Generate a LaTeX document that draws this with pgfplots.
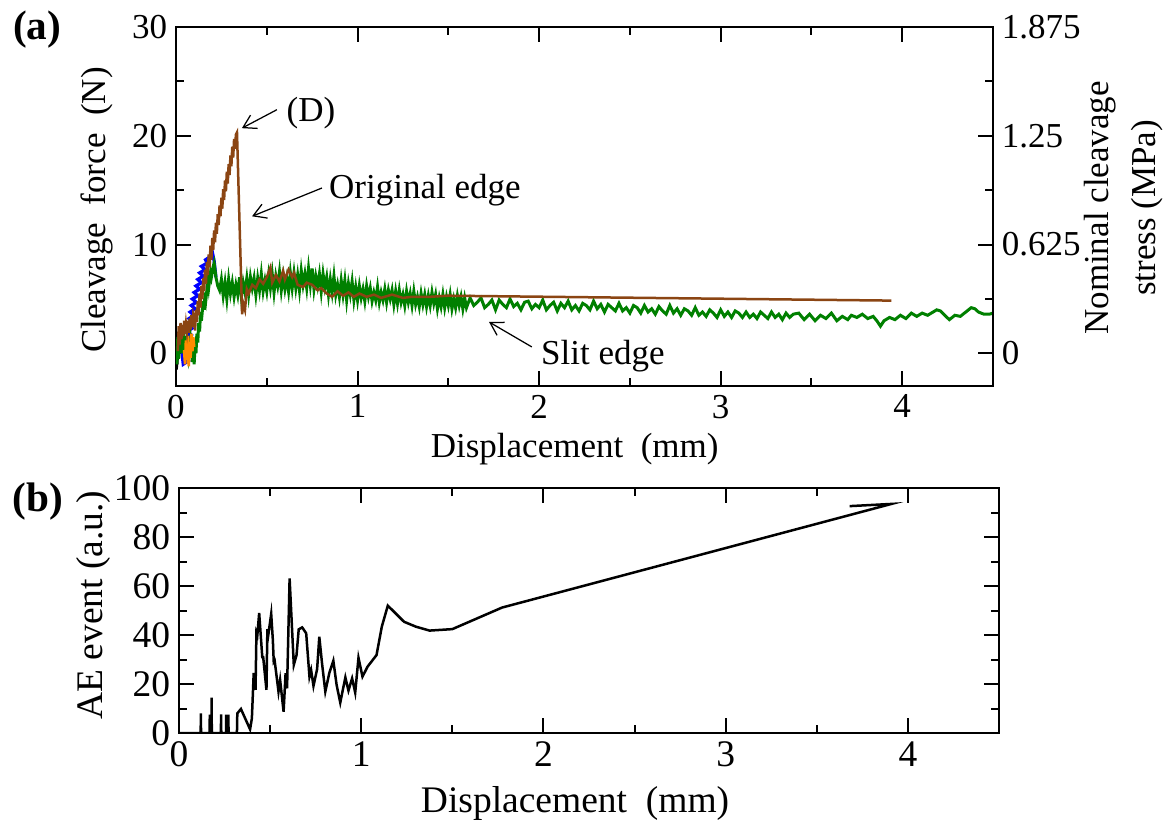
\documentclass[border=0pt]{standalone}
\usepackage{fontspec}
\setmainfont{Liberation Serif}
\usepackage{pgfplots}
\pgfplotsset{compat=1.18}
\usetikzlibrary{arrows.meta}

\definecolor{cgreen}{RGB}{0,128,0}
\definecolor{cbrown}{RGB}{139,69,19}
\definecolor{cblue}{RGB}{0,0,255}
\definecolor{corange}{RGB}{255,140,0}

\pgfplotsset{
  mystyle/.style={
    scale only axis,
    axis line style={line width=0.8pt},
    every tick/.style={black, line width=0.8pt},
    major tick length=6pt,
    minor tick length=3.2pt,
    tick align=inside,
    tick label style={font=\fontsize{14}{16}\selectfont},
    label style={font=\fontsize{14}{19}\selectfont},
    /pgf/number format/assume math mode=true,
    clip mode=individual,
  }
}

\begin{document}
\begin{tikzpicture}
\path[use as bounding box] (0,0) rectangle (469.2pt,332.8pt);

% ---------------- panel (a) ----------------
\begin{axis}[mystyle,
  at={(70.4pt,178.4pt)}, anchor=south west,
  width=326.8pt, height=143.6pt,
  xmin=0, xmax=4.5, ymin=-3, ymax=30,
  xtick={0,1,2,3,4}, minor xtick={0.5,1.5,2.5,3.5},
  ytick={0,10,20,30}, minor ytick={5,15,25},
  xlabel={Displacement\ \ (mm)},
  ylabel={Cleavage\ \ force\ \ (N)},
  xlabel style={at={(axis description cs:0.488,-0.175)}, anchor=center},
  ylabel style={at={(axis description cs:-0.097,0.49)}, anchor=center},
]
\addplot[cblue, line width=1.3pt] coordinates {
(0.030,0.5)(0.040,-1.0)(0.067,-0.7)(0.044,-0.4)(0.071,-0.1)(0.048,0.2)(0.075,0.5)(0.052,0.8)(0.079,1.1)(0.056,1.4)(0.083,1.7)
(0.060,2.0)(0.088,2.3)(0.066,2.6)(0.094,2.9)(0.072,3.2)(0.100,3.5)(0.078,3.8)(0.106,4.1)(0.084,4.4)(0.112,4.7)
(0.090,5.0)(0.120,5.3)(0.100,5.6)(0.130,5.9)(0.110,6.2)(0.140,6.5)(0.120,6.8)(0.150,7.1)(0.130,7.4)(0.160,7.7)
(0.140,8.0)(0.172,8.3)(0.163,8.6)(0.190,8.9)(0.200,9.3)(0.210,8.5)(0.220,7.0)
};
\addplot[black, line width=1pt] coordinates {
(0.004,-1.5)(0.006,1.5)(0.008,-1.0)(0.010,2.0)(0.012,-0.5)(0.015,1.0)
};
\addplot[cgreen, line width=1.2pt] coordinates {
(0.000,0.5)(0.005,-1.0)(0.010,1.5)(0.015,-0.5)(0.020,2.0)(0.030,0.0)(0.040,1.8)(0.050,0.2)(0.060,1.5)(0.070,-0.2)(0.080,1.2)(0.090,-0.8)(0.095,0.5)(0.100,-1.0)(0.105,0.8)(0.110,0.0)(0.115,1.8)(0.120,1.0)(0.125,2.8)(0.130,2.0)(0.135,3.8)(0.140,3.0)(0.150,4.8)(0.155,4.0)(0.160,5.6)(0.165,5.0)(0.175,6.6)(0.180,6.0)(0.190,7.4)(0.195,7.0)(0.205,8.0)(0.210,8.3)(0.220,7.0)(0.230,6.2)(0.240,5.8)
(0.25,6.8)(0.26,5.3)(0.27,6.5)(0.28,5.0)(0.29,6.8)(0.30,5.5)(0.31,6.5)(0.32,5.2)(0.33,6.3)(0.34,5.4)
(0.35,7.0)(0.36,5.2)(0.37,6.5)(0.38,5.6)(0.39,6.9)(0.40,5.4)(0.41,7.0)(0.42,6.0)(0.43,6.9)(0.44,5.4)
(0.45,6.9)(0.46,5.8)(0.47,7.3)(0.48,5.7)(0.49,6.7)(0.50,5.7)(0.51,7.2)(0.52,6.0)(0.53,7.3)(0.54,5.6)
(0.55,7.1)(0.56,6.2)(0.57,7.5)(0.58,5.8)(0.59,7.1)(0.60,5.9)(0.61,6.9)(0.62,5.7)(0.63,7.4)(0.64,6.0)
(0.65,7.4)(0.66,6.0)(0.67,7.2)(0.68,5.8)(0.69,7.6)(0.70,6.3)(0.71,7.3)(0.72,6.0)(0.73,7.8)(0.74,6.3)
(0.75,7.8)(0.76,5.9)(0.77,7.1)(0.78,6.2)(0.79,7.3)(0.80,5.7)(0.81,7.3)(0.82,6.1)(0.83,7.0)(0.84,5.4)
(0.85,6.8)(0.86,5.6)(0.87,7.1)(0.88,5.4)(0.89,6.3)(0.90,5.2)(0.91,6.7)(0.92,5.4)(0.93,6.7)(0.94,4.9)
(0.95,6.4)(0.96,5.4)(0.97,6.6)(0.98,4.9)(0.99,6.1)(1.00,4.9)
(1.01,6.2)(1.02,5.1)(1.03,5.9)(1.04,4.8)(1.05,6.2)(1.06,5.2)(1.07,6.0)(1.08,4.8)(1.09,5.6)(1.10,4.9)
(1.11,6.1)(1.12,4.7)(1.13,5.6)(1.14,4.9)(1.15,5.9)(1.16,4.7)(1.17,5.8)(1.18,5.0)(1.19,5.8)(1.20,4.5)
(1.21,5.7)(1.22,4.6)(1.23,5.8)(1.24,4.7)(1.25,5.4)(1.26,4.4)(1.27,5.7)(1.28,4.7)(1.29,5.5)(1.30,4.4)
(1.31,5.7)(1.32,4.5)(1.33,5.2)(1.34,4.3)(1.35,5.5)(1.36,4.5)(1.37,5.4)(1.38,4.3)(1.39,5.3)(1.40,4.4)
(1.41,5.6)(1.42,4.6)(1.43,5.4)(1.44,4.1)(1.45,5.1)(1.46,4.3)(1.47,5.4)(1.48,4.2)(1.49,5.2)(1.50,4.4)
(1.51,5.4)(1.52,4.1)(1.53,5.0)(1.54,4.2)(1.55,5.3)(1.56,4.4)(1.57,5.2)(1.58,4.1)(1.59,5.1)(1.60,4.2)
(1.62,5.1)(1.64,4.4)(1.66,4.7)(1.68,5.1)(1.70,4.2)(1.72,4.5)(1.74,4.9)(1.76,4.0)(1.78,4.9)(1.80,4.5)
(1.82,4.2)(1.84,5.0)(1.86,4.3)(1.88,4.6)(1.90,4.0)(1.92,4.7)(1.94,4.8)(1.96,4.1)(1.98,4.5)(2.00,4.2)
(2.02,4.9)(2.04,4.0)(2.06,4.4)(2.08,4.7)(2.10,3.9)(2.12,4.6)(2.14,4.2)(2.16,4.8)(2.18,4.0)(2.20,4.4)
(2.22,3.9)(2.24,4.6)(2.26,4.4)(2.28,4.0)(2.30,4.8)(2.32,4.1)(2.34,4.5)(2.36,3.8)(2.38,4.5)(2.40,4.2)
(2.42,3.9)(2.44,4.6)(2.46,3.9)(2.48,4.2)(2.50,3.7)(2.52,4.4)(2.54,4.2)(2.56,3.7)(2.58,4.4)(2.60,3.8)
(2.62,4.1)(2.64,3.6)(2.66,4.3)(2.68,3.9)(2.70,3.6)(2.72,4.4)(2.74,3.7)(2.76,4.1)(2.78,3.5)(2.80,4.1)
(2.82,3.9)(2.84,3.5)(2.86,4.2)(2.88,3.5)(2.90,3.8)(2.92,3.4)(2.94,4.0)(2.96,3.7)(2.98,3.3)(3.00,4.0)
(3.02,3.4)(3.04,3.8)(3.06,3.3)(3.08,3.9)(3.10,3.7)(3.12,3.3)(3.14,3.8)(3.16,3.3)(3.18,3.6)(3.20,3.2)
(3.22,3.8)(3.24,3.5)(3.26,3.2)(3.28,3.8)(3.30,3.3)(3.32,3.6)(3.34,3.1)(3.36,3.7)(3.38,3.3)(3.40,3.6)
(3.43,3.7)(3.46,3.1)(3.49,3.6)(3.52,3.0)(3.55,3.5)(3.58,3.2)(3.61,3.7)(3.64,3.0)(3.67,3.4)(3.70,3.1)
(3.72,3.5)(3.75,3.3)(3.78,3.6)(3.81,3.2)(3.84,3.4)(3.86,3.0)(3.88,2.5)(3.90,3.0)(3.93,3.3)(3.96,3.1)
(3.99,3.5)(4.02,3.2)(4.05,3.7)(4.08,3.4)(4.11,3.7)(4.14,3.5)(4.17,3.8)(4.19,4.0)(4.21,3.9)(4.24,3.4)
(4.26,3.1)(4.29,3.5)(4.32,3.4)(4.35,3.8)(4.38,4.2)(4.40,4.1)(4.42,3.8)(4.45,3.6)(4.48,3.6)(4.50,3.7)
};
\addplot[corange, line width=1.1pt] coordinates {
(0.045,0.3)(0.050,-1.0)(0.055,1.2)(0.060,-0.6)(0.065,1.6)(0.070,-1.2)(0.075,1.0)(0.080,-0.4)(0.085,1.8)(0.090,0.2)(0.095,1.5)(0.100,0.6)
};
\addplot[cbrown, line width=1pt] coordinates {
(0.010,0.2)(0.015,2.5)(0.020,0.8)(0.025,2.8)(0.030,1.3)(0.035,2.6)(0.040,1.6)(0.045,3.0)(0.050,1.8)(0.055,2.7)(0.060,2.0)(0.065,3.0)(0.070,1.9)(0.075,3.2)(0.080,2.2)(0.085,3.5)(0.090,2.4)(0.095,3.6)
(0.100,3.3)(0.105,2.1)(0.110,4.0)(0.115,2.9)(0.120,4.8)(0.125,3.5)(0.130,5.5)(0.135,4.2)(0.140,6.2)(0.145,5.0)
(0.150,6.9)(0.155,5.7)(0.160,7.7)(0.165,6.4)(0.170,8.4)(0.175,7.2)(0.180,9.1)(0.185,7.9)(0.190,9.9)(0.195,8.6)
(0.200,10.6)(0.205,9.5)(0.210,11.3)(0.215,10.2)(0.220,12.0)(0.225,11.0)(0.230,12.8)(0.235,11.8)(0.240,13.6)(0.245,12.6)
(0.250,14.3)(0.255,13.3)(0.260,15.1)(0.265,14.1)(0.270,15.9)(0.275,14.9)(0.280,16.7)(0.285,15.6)(0.290,17.4)(0.295,16.4)
(0.300,18.2)(0.305,17.2)(0.310,19.0)(0.315,18.0)(0.320,19.7)(0.325,18.8)(0.330,20.1)(0.336,20.3)
(0.350,12.0)(0.364,3.6)(0.372,4.5)(0.380,4.0)(0.390,5.9)(0.400,5.5)(0.420,6.3)(0.440,6.0)(0.460,6.8)(0.480,6.4)
(0.500,7.0)(0.520,7.9)(0.530,6.5)(0.550,7.2)(0.570,6.6)(0.590,7.6)(0.600,6.8)(0.620,7.7)(0.640,7.0)(0.650,7.4)
(0.670,6.3)(0.700,6.1)(0.720,6.5)(0.750,6.3)(0.780,5.8)(0.800,6.0)(0.830,5.5)(0.860,5.2)(0.890,5.7)(0.920,5.3)
(0.950,5.6)(0.980,5.2)(1.010,5.5)(1.050,5.2)(1.090,5.4)(1.130,5.1)(1.190,5.4)(1.250,5.1)(1.300,5.2)(1.400,5.2)
(1.500,5.3)(3.940,4.85)
};
\node[font=\fontsize{14}{16}\selectfont] at (axis cs:0.743,22.1) {(D)};
\draw[line width=0.5pt,-{Straight Barb[length=5pt,width=6pt]}] (axis cs:0.556,22.4) -- (axis cs:0.363,20.7);
\node[font=\fontsize{14}{16}\selectfont] at (axis cs:1.371,15.0) {Original edge};
\draw[line width=0.5pt,-{Straight Barb[length=5pt,width=6pt]}] (axis cs:0.804,15.2) -- (axis cs:0.419,12.6);
\node[font=\fontsize{14}{16}\selectfont] at (axis cs:2.351,-0.3) {Slit edge};
\draw[line width=0.5pt,-{Straight Barb[length=5pt,width=6pt]}] (axis cs:1.960,0.59) -- (axis cs:1.724,2.89);
\node[font=\bfseries\fontsize{16.5}{18}\selectfont] at (axis description cs:-0.170,0.994) {(a)};
\end{axis}

\begin{axis}[mystyle,
  at={(70.4pt,178.4pt)}, anchor=south west,
  width=326.8pt, height=143.6pt,
  xmin=0, xmax=4.5, ymin=-0.1875, ymax=1.875,
  hide x axis, axis y line*=right,
  ytick={0,0.625,1.25,1.875},
  yticklabels={0,0.625,1.25,1.875},
  major tick length=0pt,
  ylabel={Nominal cleavage\\stress (MPa)},
  ylabel style={at={(axis description cs:1.160,0.496)}, anchor=center, align=center},
]
\addplot[draw=none] coordinates {(0,0)};
\end{axis}

% ---------------- panel (b) ----------------
\begin{axis}[mystyle,
  at={(71.6pt,39.6pt)}, anchor=south west,
  width=328pt, height=98pt,
  xmin=0, xmax=4.5, ymin=0, ymax=100,
  xtick={0,1,2,3,4}, minor xtick={0.5,1.5,2.5,3.5},
  ytick={0,20,40,60,80,100}, minor ytick={10,30,50,70,90},
  tick label style={font=\fontsize{15}{17}\selectfont},
  label style={font=\fontsize{15}{17}\selectfont},
  xlabel={Displacement\ \ (mm)},
  ylabel={AE event (a.u.)},
  xlabel style={at={(axis description cs:0.483,-0.286)}, anchor=center},
  ylabel style={at={(axis description cs:-0.104,0.522)}, anchor=center},
]
\addplot[black, line width=1pt] coordinates {
(0,0)(0.119,0)(0.120,8)(0.121,0)(0.168,0)(0.169,7.5)(0.170,0)(0.178,0)(0.179,14.4)(0.180,0)(0.230,0)(0.231,7.6)(0.232,0)
(0.258,0)(0.259,7.5)(0.260,0)(0.270,0)(0.271,7.5)(0.272,0)(0.318,0)(0.320,8)(0.340,9.8)(0.390,1.5)(0.400,6)
(0.410,24.5)(0.420,17.6)(0.425,41)(0.430,40)(0.440,49)(0.457,31)(0.462,31)(0.480,17.6)(0.485,42.4)(0.490,40)
(0.506,48.6)(0.515,38)(0.520,29)(0.525,29.5)(0.546,16.9)(0.555,21.6)(0.574,8.7)(0.585,24.4)(0.593,18.2)(0.607,63.1)
(0.630,27.8)(0.645,31.8)(0.657,42.3)(0.676,43.1)(0.698,40.7)(0.716,23)(0.725,25.7)(0.738,19.2)(0.758,26.1)(0.770,39.3)
(0.785,28.4)(0.803,16.9)(0.825,24.5)(0.847,29.5)(0.865,19.6)(0.885,12.4)(0.913,22.7)(0.930,17.3)(0.950,22.3)(0.967,16.5)
(0.985,30.7)(1.007,23)(1.035,27.1)(1.084,31.8)(1.113,43.4)(1.146,52)(1.235,45.4)(1.300,43.4)(1.375,41.8)(1.500,42.4)
(1.773,51.2)(3.910,93.5)(3.680,92.6)
};
\node[font=\bfseries\fontsize{16.5}{18}\selectfont] at (axis description cs:-0.172,0.943) {(b)};
\end{axis}
\end{tikzpicture}
\end{document}
